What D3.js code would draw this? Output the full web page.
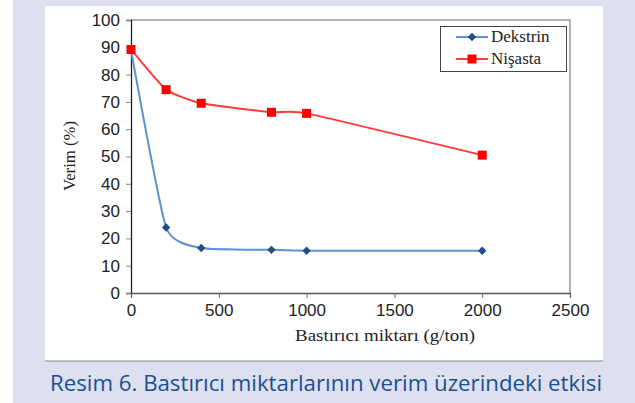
<!DOCTYPE html>
<html lang="tr">
<head>
<meta charset="UTF-8">
<title>Resim 6</title>
<script src="https://d3js.org/d3.v7.min.js"></script>
<style>
    body { margin: 0; background: #fff; }
    svg { display: block; }
</style>
</head>
<body>
<div id="chart"></div>
<script>
    // data
    const doses = [0, 200, 400, 800, 1000, 2000];
    const dekstrin = [89, 24, 16.5, 15.8, 15.5, 15.5];
    const nisasta = [89.2, 74.5, 69.5, 66.2, 65.8, 50.5];
    const xTicks = [0, 500, 1000, 1500, 2000, 2500];
    const yTicks = [0, 10, 20, 30, 40, 50, 60, 70, 80, 90, 100];

    const W = 635, H = 403;
    const serif = "Liberation Serif, Times New Roman, serif";
    const svg = d3.select("#chart").append("svg").attr("width", W).attr("height", H);

    // background panels
    svg.append("rect").attr("x", 13).attr("y", 0).attr("width", W - 13).attr("height", H).attr("fill", "#dce0ef");
    svg.append("rect").attr("x", 45).attr("y", 6).attr("width", 558).attr("height", 355).attr("fill", "#fff");
    svg.append("line").attr("x1", 45).attr("x2", 603).attr("y1", 361).attr("y2", 361)
        .attr("stroke", "#8a8a8a").attr("stroke-width", 1.2);

    const plotL = 131, plotR = 570, plotT = 20, plotB = 293;
    const x = d3.scaleLinear().domain([0, 2500]).range([plotL, plotR]);
    const y = d3.scaleLinear().domain([0, 100]).range([plotB, plotT]);

    // plot frame (top/right grey)
    svg.append("path").attr("d", `M${plotL},${plotT}H${plotR}V${plotB}`)
        .attr("fill", "none").attr("stroke", "#9a9a9a").attr("stroke-width", 1.5);

    const yAxis = svg.append("g").attr("transform", `translate(${plotL},0)`)
        .call(d3.axisLeft(y).tickValues(yTicks).tickSize(5).tickPadding(6));
    yAxis.select(".domain").attr("stroke", "#222").attr("stroke-width", 1.3);
    yAxis.selectAll(".tick line").attr("stroke", "#888");

    const xAxis = svg.append("g").attr("transform", `translate(0,${plotB})`)
        .call(d3.axisBottom(x).tickValues(xTicks).tickFormat(d3.format("d")).tickSize(5).tickPadding(6));
    xAxis.select(".domain").attr("stroke", "#555").attr("stroke-width", 1.3);
    xAxis.selectAll(".tick line").attr("stroke", "#666");

    svg.selectAll(".tick text")
        .attr("font-family", "Liberation Sans, Arial, sans-serif")
        .attr("font-size", 17).attr("fill", "#222");

    // axis titles
    svg.append("text").attr("transform", `translate(75,156) rotate(-90)`)
        .attr("text-anchor", "middle").attr("font-family", serif)
        .attr("font-size", 17).attr("fill", "#222")
        .attr("textLength", 70).attr("lengthAdjust", "spacingAndGlyphs").text("Verim (%)");
    svg.append("text").attr("x", 385).attr("y", 341)
        .attr("text-anchor", "middle").attr("font-family", serif)
        .attr("font-size", 16.5).attr("fill", "#222")
        .attr("textLength", 180).attr("lengthAdjust", "spacingAndGlyphs").text("Bastırıcı miktarı (g/ton)");

    const line = d3.line().x(d => x(d[0])).y(d => y(d[1])).curve(d3.curveCardinal.tension(0.5));
    const dek = doses.map((d, i) => [d, dekstrin[i]]);
    const nis = doses.map((d, i) => [d, nisasta[i]]);

    svg.append("path").attr("d", line(dek)).attr("fill", "none")
        .attr("stroke", "#5b93d3").attr("stroke-width", 2);
    svg.append("path").attr("d", line(nis)).attr("fill", "none")
        .attr("stroke", "#ff3b3b").attr("stroke-width", 2);

    const diamond = d3.symbol().type(d3.symbolDiamond2).size(45);
    svg.selectAll(".dek").data(dek).join("path")
        .attr("transform", d => `translate(${x(d[0])},${y(d[1])})`)
        .attr("d", diamond).attr("fill", "#1f4f86");
    svg.selectAll(".nis").data(nis).join("rect")
        .attr("x", d => x(d[0]) - 4.5).attr("y", d => y(d[1]) - 4.5)
        .attr("width", 9).attr("height", 9).attr("fill", "#ff0000");

    // legend
    const lg = svg.append("g");
    lg.append("rect").attr("x", 440.5).attr("y", 26.5).attr("width", 126).attr("height", 45)
        .attr("fill", "#fff").attr("stroke", "#444").attr("stroke-width", 1);
    const items = [
        { name: "Dekstrin", color: "#5b93d3", y: 37 },
        { name: "Nişasta", color: "#ff3b3b", y: 59 }
    ];
    items.forEach((it, i) => {
        lg.append("line").attr("x1", 456).attr("x2", 488).attr("y1", it.y).attr("y2", it.y)
            .attr("stroke", it.color).attr("stroke-width", 2);
        if (i === 0) {
            lg.append("path").attr("transform", `translate(472,${it.y})`).attr("d", diamond).attr("fill", "#1f4f86");
        } else {
            lg.append("rect").attr("x", 467.5).attr("y", it.y - 4.5).attr("width", 9).attr("height", 9).attr("fill", "#ff0000");
        }
        lg.append("text").attr("x", 491).attr("y", it.y + 5)
            .attr("font-family", serif)
            .attr("font-size", 17).attr("fill", "#222").text(it.name);
    });

    // caption
    svg.append("text").attr("x", 50).attr("y", 391)
        .attr("font-family", "Open Sans, Noto Sans, sans-serif")
        .attr("font-size", 22).attr("fill", "#1c4f91")
        .attr("textLength", 552).attr("lengthAdjust", "spacingAndGlyphs")
        .text("Resim 6. Bastırıcı miktarlarının verim üzerindeki etkisi");
</script>
</body>
</html>
